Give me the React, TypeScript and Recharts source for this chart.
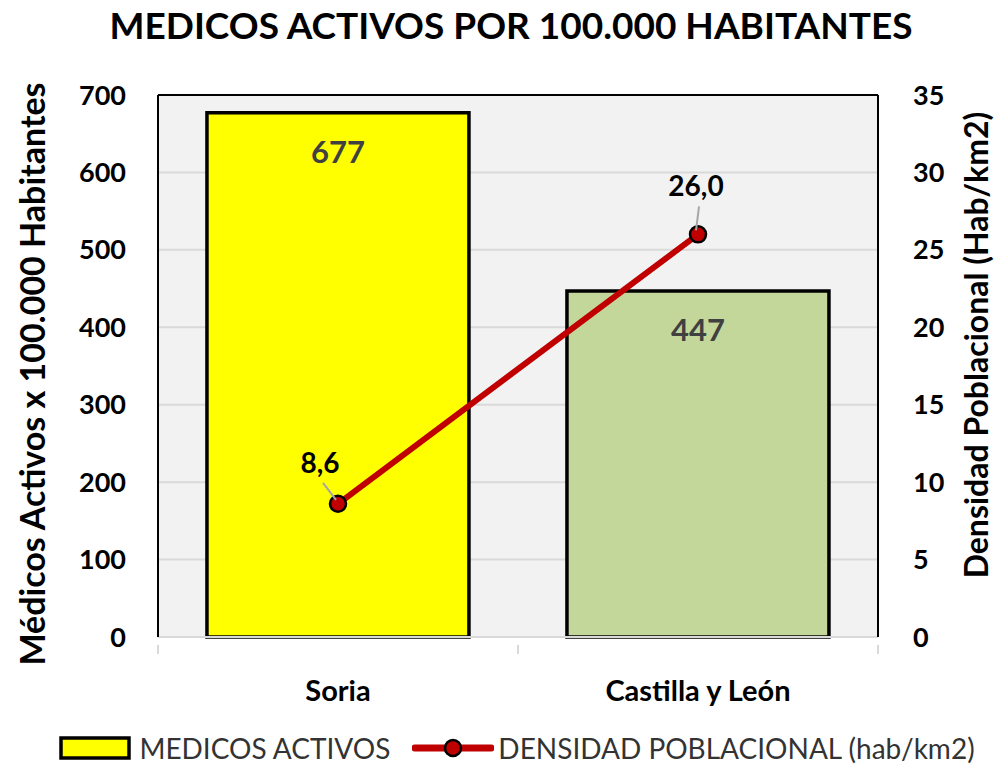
import React from 'react';
import {
  ComposedChart,
  Bar,
  Line,
  XAxis,
  YAxis,
  CartesianGrid,
  Cell,
  LabelList,
  Label,
  ReferenceLine,
} from 'recharts';

const CATEGORIES = ['Soria', 'Castilla y León'];
const MEDICOS_ACTIVOS = [677, 447];
const DENSIDAD = [8.6, 26.0];
const LEFT_TICKS = [0, 100, 200, 300, 400, 500, 600, 700];
const RIGHT_TICKS = [0, 5, 10, 15, 20, 25, 30, 35];

const BAR_COLORS = ['#ffff00', '#c4d79b'];
const LINE_COLOR = '#c00000';
const FONT = 'Lato, "Liberation Sans", sans-serif';

// where each line label sits relative to its point (x shift, baseline shift)
const LINE_LABEL_SHIFT = [
  { dx: -18, dy: -31 },
  { dx: -2, dy: -38 },
];

const data = CATEGORIES.map((cat, i) => ({
  cat,
  medicos: MEDICOS_ACTIVOS[i],
  densidad: DENSIDAD[i],
}));

const fmt = (v: number) => v.toFixed(1).replace('.', ',');

const XTick = (props: any) => {
  const { x, y, payload } = props;
  const half = payload.offset || 180;
  return (
    <g>
      <line x1={x - half} x2={x - half} y1={y} y2={y + 9} stroke="#d9d9d9" strokeWidth={2} />
      {payload.index === CATEGORIES.length - 1 && (
        <line x1={x + half} x2={x + half} y1={y} y2={y + 9} stroke="#d9d9d9" strokeWidth={2} />
      )}
      <text x={x} y={y + 56} textAnchor="middle" fontFamily={FONT} fontWeight="bold" fontSize={29} fill="#000">
        {payload.value}
      </text>
    </g>
  );
};

const LineLabel = (props: any) => {
  const { x, y, value, index } = props;
  const s = LINE_LABEL_SHIFT[index] || { dx: 0, dy: -30 };
  const lx = x + s.dx;
  const ly = y + s.dy;
  return (
    <g>
      <line x1={lx + 3} y1={ly + 10} x2={x - 2} y2={y - 4} stroke="#a6a6a6" strokeWidth={2} />
      <text x={lx} y={ly} textAnchor="middle" fontFamily={FONT} fontWeight="bold" fontSize={28} fill="#000">
        {fmt(value)}
      </text>
    </g>
  );
};

const AxisTitle = ({ viewBox, text, cx, dy, size }: any) => {
  const { y, height } = viewBox;
  const cy = y + height / 2 + dy;
  return (
    <text
      x={cx}
      y={cy}
      transform={`rotate(-90 ${cx} ${cy})`}
      textAnchor="middle"
      dominantBaseline="central"
      fontFamily={FONT}
      fontWeight="bold"
      fontSize={size}
      fill="#000"
    >
      {text}
    </text>
  );
};

const ChartLegend = () => (
  <div
    style={{
      position: 'absolute',
      top: 731,
      left: 0,
      width: 996,
      display: 'flex',
      justifyContent: 'center',
      alignItems: 'center',
      fontFamily: FONT,
      fontSize: 28,
      color: '#333333',
      gap: 22,
      paddingLeft: 38,
      boxSizing: 'border-box',
      whiteSpace: 'nowrap',
    }}
  >
    <span style={{ display: 'flex', alignItems: 'center' }}>
      <svg width={72} height={24} style={{ marginRight: 8 }}>
        <rect x={2} y={2} width={68} height={20} fill={BAR_COLORS[0]} stroke="#000" strokeWidth={3.5} />
      </svg>
      MEDICOS ACTIVOS
    </span>
    <span style={{ display: 'flex', alignItems: 'center' }}>
      <svg width={82} height={24} style={{ marginRight: 4 }}>
        <line x1={3} x2={79} y1={12} y2={12} stroke={LINE_COLOR} strokeWidth={7} strokeLinecap="round" />
        <circle cx={41} cy={12} r={8} fill={LINE_COLOR} stroke="#000" strokeWidth={2.5} />
      </svg>
      DENSIDAD POBLACIONAL (hab/km2)
    </span>
  </div>
);

export default function App() {
  return (
    <div style={{ position: 'absolute', left: 0, top: 0, width: 996, height: 766, background: '#fff' }}>
      <div
        style={{
          position: 'absolute',
          top: 2,
          left: 0,
          width: 996,
          textAlign: 'center',
          fontFamily: FONT,
          fontWeight: 'bold',
          fontSize: 37,
          color: '#000',
          paddingLeft: 26,
          boxSizing: 'border-box',
          whiteSpace: 'nowrap',
        }}
      >
        MEDICOS ACTIVOS POR 100.000 HABITANTES
      </div>
      <ComposedChart
        width={996}
        height={766}
        data={data}
        margin={{ top: 95, right: 0, bottom: 0, left: 0 }}
        barCategoryGap="13.6%"
      >
        <CartesianGrid vertical={false} yAxisId="left" stroke="#d9d9d9" strokeWidth={2} fill="#f2f2f2" />
        <XAxis
          dataKey="cat"
          height={129}
          axisLine={{ stroke: '#d9d9d9', strokeWidth: 2 }}
          tickLine={false}
          tick={<XTick />}
          interval={0}
        />
        <YAxis
          yAxisId="left"
          width={158}
          domain={[0, 700]}
          ticks={LEFT_TICKS}
          axisLine={{ stroke: '#000', strokeWidth: 2 }}
          tickLine={false}
          tickMargin={26}
          tick={{ fontFamily: FONT, fontWeight: 'bold', fontSize: 27, fill: '#000' }}
        >
          <Label
            content={(p: any) => (
              <AxisTitle {...p} cx={31} dy={8} size={34} text="Médicos Activos x 100.000 Habitantes" />
            )}
          />
        </YAxis>
        <YAxis
          yAxisId="right"
          orientation="right"
          width={118}
          domain={[0, 35]}
          ticks={RIGHT_TICKS}
          axisLine={{ stroke: '#000', strokeWidth: 2 }}
          tickLine={false}
          tickMargin={29}
          tick={{ fontFamily: FONT, fontWeight: 'bold', fontSize: 27, fill: '#000', textAnchor: 'start' }}
        >
          <Label
            content={(p: any) => (
              <AxisTitle {...p} cx={975} dy={-21} size={32} text="Densidad Poblacional  (Hab/km2)" />
            )}
          />
        </YAxis>
        <ReferenceLine yAxisId="left" y={700} stroke="#000" strokeWidth={2} />
        <Bar yAxisId="left" dataKey="medicos" stroke="#000" strokeWidth={3.5} isAnimationActive={false}>
          {data.map((d, i) => (
            <Cell key={d.cat} fill={BAR_COLORS[i % BAR_COLORS.length]} />
          ))}
          <LabelList
            dataKey="medicos"
            position="insideTop"
            offset={28}
            fill="#404040"
            fontFamily={FONT}
            fontWeight="bold"
            fontSize={31}
          />
        </Bar>
        <Line
          yAxisId="right"
          dataKey="densidad"
          stroke={LINE_COLOR}
          strokeWidth={6}
          dot={{ r: 8, fill: LINE_COLOR, stroke: '#000', strokeWidth: 2.5 }}
          activeDot={false}
          isAnimationActive={false}
        >
          <LabelList dataKey="densidad" content={<LineLabel />} />
        </Line>
      </ComposedChart>
      <ChartLegend />
    </div>
  );
}
